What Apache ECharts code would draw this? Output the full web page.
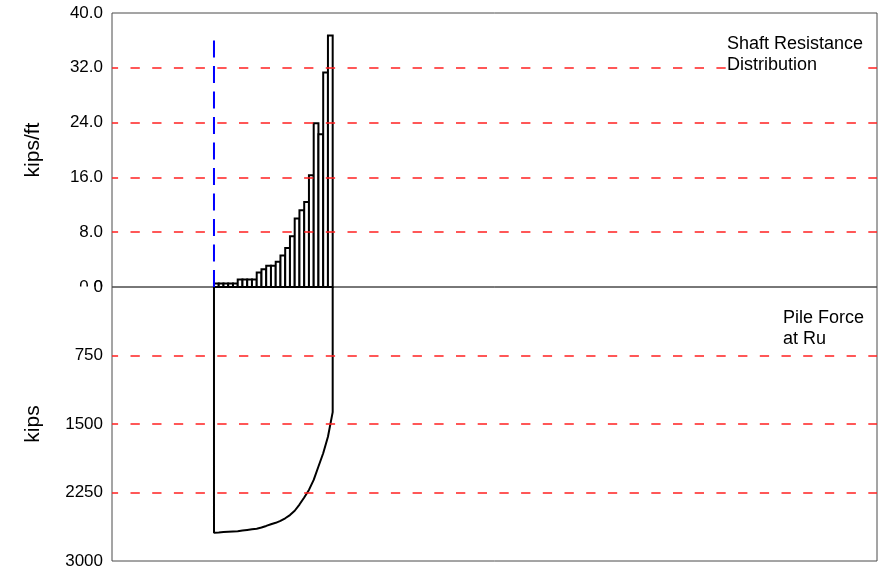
<!DOCTYPE html>
<html><head><meta charset="utf-8">
<script src="https://cdn.jsdelivr.net/npm/echarts@6/dist/echarts.min.js"></script>
<style>html,body{margin:0;padding:0;background:#fff}#c{width:882px;height:573px}</style>
</head><body><div id="c"></div>
<script>
// Segment boundaries along the pile (ft)
const depths = [0, 6.5, 13, 19.5, 26, 32.5, 39, 45.5, 52, 58.5, 65, 71.5, 78, 84.5, 91, 97.5, 104, 110.5, 117, 123.5, 130, 136.5, 143, 149.5, 156, 162.5];
// Shaft resistance per segment (kips/ft)
const shaftResistance = [0.5, 0.5, 0.5, 0.5, 0.5, 1.1, 1.1, 1.1, 1.1, 2.1, 2.6, 3.1, 3.1, 3.7, 4.6, 5.7, 7.4, 10.0, 11.2, 12.4, 16.3, 23.9, 22.3, 31.3, 36.7];
// Pile force at Ru at each boundary (kips)
const pileForce = [2690, 2687, 2683, 2680, 2677, 2674, 2667, 2660, 2653, 2646, 2633, 2616, 2597, 2582, 2560, 2532, 2497, 2450, 2382, 2305, 2222, 2112, 1965, 1820, 1640, 1370];
// Reference (pile head) line height in kips/ft
const referenceLineTop = 36;
const shaftTickLabels = ['0.0', '8.0', '16.0', '24.0', '32.0', '40.0'];
const forceTickLabels = ['0', '750', '1500', '2250', '3000'];

const FONT = 'Liberation Sans, Arial, sans-serif';
const X_MIN = -139.6, X_MAX = 907.6;
const gridDash = { color: '#ff2020', width: 1.5, type: [9.3, 12.4], dashOffset: 3.2 };

const chart = echarts.init(document.getElementById('c'), null, { renderer: 'canvas' });
const pileEnd = depths[depths.length - 1];
const forceLine = [[depths[0], 0]].concat(depths.map((d, i) => [d, pileForce[i]])).concat([[pileEnd, 0]]);

chart.setOption({
  animation: false,
  backgroundColor: '#fff',
  grid: [
    { left: 112, top: 13, width: 765, height: 274, show: true, borderColor: '#4a4a4a', borderWidth: 1 },
    { left: 112, top: 287, width: 765, height: 274, show: true, borderColor: '#4a4a4a', borderWidth: 1 }
  ],
  xAxis: [
    { gridIndex: 0, type: 'value', min: X_MIN, max: X_MAX, show: false },
    { gridIndex: 1, type: 'value', min: X_MIN, max: X_MAX, show: false }
  ],
  yAxis: [
    {
      gridIndex: 0, type: 'value', min: 0, max: 40, interval: 8, z: 3,
      name: 'kips/ft', nameLocation: 'middle', nameGap: 68, nameRotate: 90,
      nameTextStyle: { fontFamily: FONT, fontSize: 21, color: '#000' },
      axisLine: { show: false }, axisTick: { show: false },
      axisLabel: { fontFamily: FONT, fontSize: 17, color: '#000', margin: 9,
        formatter: v => shaftTickLabels[Math.round(v / 8)] },
      splitLine: { show: true, showMinLine: false, showMaxLine: false, lineStyle: gridDash }
    },
    {
      gridIndex: 1, type: 'value', min: 0, max: 3000, interval: 750, inverse: true, z: 60,
      name: 'kips', nameLocation: 'middle', nameGap: 68, nameRotate: 90,
      nameTextStyle: { fontFamily: FONT, fontSize: 21, color: '#000' },
      axisLine: { show: false }, axisTick: { show: false },
      axisLabel: { fontFamily: FONT, fontSize: 17, color: '#000', margin: 9,
        formatter: v => forceTickLabels[Math.round(v / 750)] },
      splitLine: { show: true, showMinLine: false, showMaxLine: false, lineStyle: gridDash }
    }
  ],
  graphic: [
    { type: 'rect', z: 50, shape: { x: 60, y: 286.5, width: 47, height: 10 }, style: { fill: '#fff' } },
    { type: 'text', z: 70, left: 727, top: 34, style: { text: 'Shaft Resistance\nDistribution', font: '18px ' + FONT, fill: '#000', lineHeight: 21, backgroundColor: '#fff' } },
    { type: 'text', z: 70, left: 783, top: 308, style: { text: 'Pile Force\nat Ru', font: '18px ' + FONT, fill: '#000', lineHeight: 21, backgroundColor: '#fff' } }
  ],
  series: [
    {
      type: 'custom', xAxisIndex: 0, yAxisIndex: 0, z: 2,
      data: shaftResistance.map((v, i) => [depths[i], depths[i + 1], v]),
      encode: { x: [0, 1], y: 2 },
      renderItem: (params, api) => {
        const p0 = api.coord([api.value(0), api.value(2)]);
        const p1 = api.coord([api.value(1), 0]);
        return { type: 'rect', shape: { x: p0[0], y: p0[1], width: p1[0] - p0[0], height: p1[1] - p0[1] },
          style: { fill: '#fff', stroke: '#000', lineWidth: 2 } };
      }
    },
    {
      type: 'line', xAxisIndex: 0, yAxisIndex: 0, z: 5, symbol: 'none',
      data: [[depths[0], referenceLineTop], [depths[0], 0]],
      lineStyle: { color: '#0000ff', width: 2, type: [17, 8.5] }
    },
    {
      type: 'line', xAxisIndex: 1, yAxisIndex: 1, z: 5, symbol: 'none',
      data: forceLine,
      lineStyle: { color: '#000', width: 2 }
    }
  ]
});
</script></body></html>
